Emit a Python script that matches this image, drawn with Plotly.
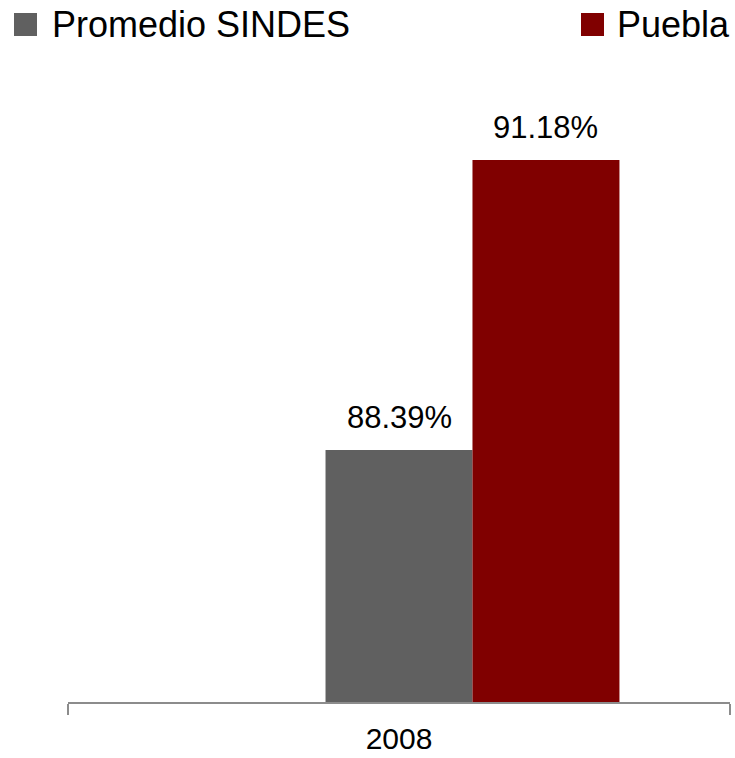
import plotly.graph_objects as go

categories = ["2008"]
series_names = ["Promedio SINDES", "Puebla"]
promedio_sindes = [88.39]
puebla = [91.18]
colors = ["#606060", "#800000"]

W, H = 735, 758
ML, MR, MT, MB = 68, 5, 80, 56
PH = H - MT - MB
BARGAP = 0.334
FONT = "Liberation Sans, Arial, sans-serif"

fig = go.Figure()
# empty leading series slot (as in the original clustered chart)
fig.add_trace(go.Bar(x=categories, y=[None], showlegend=False, marker_color="#ffffff", hoverinfo="skip"))
fig.add_trace(go.Bar(x=categories, y=promedio_sindes, name=series_names[0], marker_color=colors[0], marker_line_width=0))
fig.add_trace(go.Bar(x=categories, y=puebla, name=series_names[1], marker_color=colors[1], marker_line_width=0))

bw = (1 - BARGAP) / 3
annotations = []
for i, c in enumerate(categories):
    for k, vals in enumerate([promedio_sindes, puebla]):
        annotations.append(dict(
            x=i + k * bw, y=vals[i], xref="x", yref="y",
            text=f"{vals[i]:.2f}%", showarrow=False,
            yanchor="bottom", xanchor="center", yshift=13,
            font=dict(size=31, color="#000000", family=FONT),
        ))

def py(px):
    return 1 + (MT - px) / PH

def pxx(px):
    return (px - ML) / (W - ML - MR)

# legend
leg = [(14, 50), (581, 615)]
shapes = []
for (sx, tx), name, col in zip(leg, series_names, colors):
    shapes.append(dict(type="rect", xref="paper", yref="paper",
                       x0=pxx(sx), x1=pxx(sx + 23), y0=py(13), y1=py(36),
                       fillcolor=col, line_width=0))
    annotations.append(dict(x=pxx(tx), y=py(24), xref="paper", yref="paper",
                            text=name, showarrow=False, xanchor="left", yanchor="middle",
                            font=dict(size=36, color="#000000", family=FONT)))

fig.update_layout(
    width=W, height=H,
    margin=dict(l=ML, r=MR, t=MT, b=MB, autoexpand=False),
    plot_bgcolor="#ffffff", paper_bgcolor="#ffffff",
    barmode="group", bargap=BARGAP, bargroupgap=0,
    showlegend=False,
    annotations=annotations, shapes=shapes,
    font=dict(family=FONT, color="#000000"),
)
fig.update_xaxes(
    range=[-0.5, len(categories) - 0.5],
    automargin=False,
    showline=True, linecolor="#8c8c8c", linewidth=2,
    ticks="outside", tickson="boundaries", ticklen=11, tickwidth=2, tickcolor="#8c8c8c",
    tickfont=dict(size=30, color="#000000", family=FONT),
    ticklabelstandoff=9,
    showgrid=False, zeroline=False,
)
fig.update_yaxes(visible=False, automargin=False, range=[85.966, 85.966 + PH / 103.94], showgrid=False, zeroline=False)

fig.write_html("out.html", config={"displayModeBar": False},
               post_script="document.body.style.margin='0';document.body.style.overflow='hidden';")
